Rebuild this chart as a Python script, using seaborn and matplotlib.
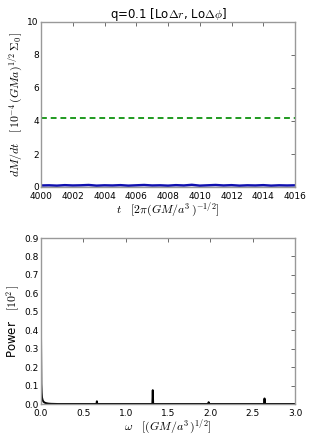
import numpy as np
import pandas as pd
import matplotlib
matplotlib.use("Agg")
import matplotlib.pyplot as plt
import seaborn as sns

# accretion rate time series
t = [4000.0, 4000.5, 4001.0, 4001.5, 4002.0, 4002.5, 4003.0, 4003.5, 4004.0, 4004.5,
     4005.0, 4005.5, 4006.0, 4006.5, 4007.0, 4007.5, 4008.0, 4008.5, 4009.0, 4009.5,
     4010.0, 4010.5, 4011.0, 4011.5, 4012.0, 4012.5, 4013.0, 4013.5, 4014.0, 4014.5,
     4015.0, 4015.5, 4016.0]
mdot = [0.09, 0.10, 0.08, 0.11, 0.09, 0.10, 0.12, 0.08, 0.10, 0.09,
        0.11, 0.08, 0.10, 0.12, 0.09, 0.10, 0.08, 0.11, 0.09, 0.13,
        0.08, 0.10, 0.12, 0.09, 0.11, 0.08, 0.10, 0.09, 0.11, 0.08,
        0.10, 0.09, 0.10]
mdot_ref = 4.2

# power spectrum
omega = [0.0, 0.004, 0.008, 0.012, 0.02, 0.03, 0.045, 0.065, 0.09, 0.12, 0.2,
         0.655, 0.66, 0.665, 1.315, 1.32, 1.325, 1.975, 1.98, 1.985,
         2.635, 2.64, 2.645, 3.0]
power = [0.38, 0.11, 0.06, 0.035, 0.02, 0.012, 0.007, 0.004, 0.002, 0.001, 0.0,
         0.0, 0.015, 0.0, 0.0, 0.075, 0.0, 0.0, 0.01, 0.0,
         0.0, 0.03, 0.0, 0.0]

sns.set_style("white")
plt.rcParams["font.family"] = ["DejaVu Sans"]
plt.rcParams["mathtext.fontset"] = "cm"
plt.rcParams["xtick.direction"] = "in"
plt.rcParams["ytick.direction"] = "in"
plt.rcParams["text.color"] = "black"
plt.rcParams["axes.labelcolor"] = "black"
plt.rcParams["xtick.labelcolor"] = "black"
plt.rcParams["ytick.labelcolor"] = "black"

fig = plt.figure(figsize=(3.28, 4.36), dpi=100)
ax1 = fig.add_axes([41/328, 1-187/436, 254/328, 165/436])
ax2 = fig.add_axes([41/328, 1-404/436, 254/328, 166/436])

df1 = pd.DataFrame({"t": t, "mdot": mdot})
sns.lineplot(data=df1, x="t", y="mdot", ax=ax1, color="#1010b0", lw=1.8)
ax1.axhline(mdot_ref, color="#1f9a1f", ls="--", lw=1.4, dashes=(3, 2))
ax1.set_xlim(4000, 4016)
ax1.set_ylim(0, 10)
ax1.set_xticks(np.arange(4000, 4017, 2))
ax1.set_yticks([0, 2, 4, 6, 8, 10])
ax1.set_title(r"q=0.1 [Lo$\Delta r$, Lo$\Delta\phi$]", fontsize=8.5, pad=3)
ax1.set_xlabel(r"$t\quad[2\pi(GM/a^3\,)^{-1/2}]$", fontsize=8.5, labelpad=0)
ax1.set_ylabel(r"$dM/dt\quad[\,10^{-4}\,(GMa)^{1/2}\,\Sigma_0\,]$", fontsize=8.5, labelpad=2)

df2 = pd.DataFrame({"omega": omega, "power": power})
sns.lineplot(data=df2, x="omega", y="power", ax=ax2, color="black", lw=1.4)
ax2.set_xlim(0, 3)
ax2.set_ylim(0, 0.9)
ax2.set_xticks(np.arange(0, 3.01, 0.5))
ax2.set_yticks(np.arange(0, 0.91, 0.1))
ax2.set_xlabel(r"$\omega\quad[(GM/a^3\,)^{1/2}]$", fontsize=8.5, labelpad=0)
ax2.set_ylabel(r"Power   $[10^2\,]$", fontsize=8.5, labelpad=2)

for ax in (ax1, ax2):
    for s in ax.spines.values():
        s.set_color("#999999")
        s.set_linewidth(1.0)
    ax.tick_params(labelsize=6.5, length=3, width=0.6, color="#555555",
                   top=True, right=True)
    ax.tick_params(axis="x", pad=3.5)
    ax.tick_params(axis="y", pad=1.5)

fig.savefig("out.png", dpi=100)
